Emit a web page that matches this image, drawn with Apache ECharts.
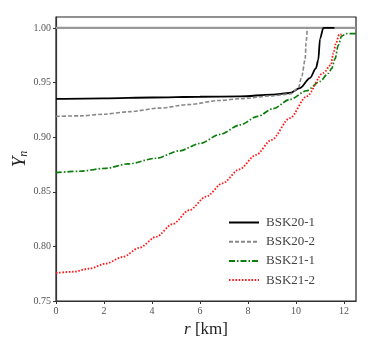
<!DOCTYPE html>
<html>
<head>
<meta charset="utf-8">
<script src="https://cdn.jsdelivr.net/npm/echarts@6/dist/echarts.min.js"></script>
<style>
    html, body { margin: 0; padding: 0; background: #fff; }
    #chart { width: 374px; height: 354px; }
</style>
</head>
<body>
<div id="chart"></div>
<script>
// values, [r (km), Y_n]
var bsk20_1 = [[0, 0.935], [2, 0.9355], [4, 0.9363], [6, 0.937], [7.67, 0.9373], [9, 0.939], [9.75, 0.9404],
    [10.17, 0.945], [10.58, 0.954], [10.83, 0.963], [10.93, 0.971], [11.0, 0.99], [11.14, 1.0], [11.6, 1.0]];
var bsk20_2 = [[0, 0.919], [1, 0.9195], [2, 0.921], [3, 0.9232], [4.33, 0.9266], [5.5, 0.9298], [6.83, 0.9336],
    [7.67, 0.9352], [9, 0.9378], [9.75, 0.9395], [10.1, 0.945], [10.24, 0.9557], [10.38, 0.971], [10.42, 0.9864], [10.47, 1.0]];
var bsk21_1 = [[0, 0.8675], [1, 0.8688], [2.08, 0.8715], [3, 0.8755], [4.17, 0.8807], [5.14, 0.8875], [6, 0.8942],
    [6.83, 0.9025], [7.67, 0.9112], [8.4, 0.919], [9.05, 0.9262], [9.75, 0.9345], [10.44, 0.9425], [11.0, 0.951],
    [11.35, 0.9585], [11.49, 0.963], [11.63, 0.972], [11.76, 0.984], [11.9, 0.9925], [12.1, 0.9947], [12.5, 0.9947]];
var bsk21_2 = [[0, 0.7756], [0.7, 0.7768], [1.39, 0.7796], [2.08, 0.7843], [2.78, 0.7903], [3.47, 0.7987], [4.17, 0.8087],
    [4.86, 0.8205], [5.56, 0.8332], [6.25, 0.8455], [6.94, 0.8577], [7.64, 0.8705], [8.33, 0.8837], [8.98, 0.8975],
    [9.75, 0.9175], [10.44, 0.9373], [11.14, 0.9588], [11.45, 0.966], [11.56, 0.977], [11.67, 0.9864],
    [11.8, 0.994], [11.9, 0.994]];
var unityLine = [[0, 1.0], [12.5, 1.0]];

var names = ['BSK20-1', 'BSK20-2', 'BSK21-1', 'BSK21-2'];
var xTicks = [0, 2, 4, 6, 8, 10, 12];
var yTicks = [0.75, 0.80, 0.85, 0.90, 0.95, 1.00];

var font = 'Liberation Serif';

function curve(name, data, color, width, type) {
    return {
        name: name,
        type: 'line',
        data: data,
        symbol: 'none',
        smooth: 0.3,
        smoothMonotone: 'x',
        lineStyle: { color: color, width: width, type: type },
        itemStyle: { color: color },
        z: 3
    };
}

var option = {
    animation: false,
    grid: {
        left: 56, right: 18, top: 17, bottom: 53,
        outerBoundsMode: 'none',
        show: true, borderColor: '#222', borderWidth: 1.2
    },
    legend: {
        data: names,
        orient: 'vertical',
        left: 223,
        top: 211,
        itemWidth: 30,
        itemHeight: 10,
        itemGap: 6.2,
        itemStyle: { opacity: 0 },
        textStyle: { fontFamily: font, fontSize: 13, color: '#444', padding: [0, 0, 0, 2] }
    },
    xAxis: {
        type: 'value',
        min: 0, max: 12.5, interval: 2,
        name: '{i|r} [km]',
        nameLocation: 'middle',
        nameGap: 20,
        nameMoveOverlap: false,
        nameTextStyle: {
            fontFamily: font, fontSize: 17, color: '#222',
            rich: { i: { fontFamily: font, fontStyle: 'italic', fontSize: 17, color: '#222' } }
        },
        splitLine: { show: false },
        axisLine: { lineStyle: { color: '#333', width: 1.2 } },
        axisTick: { length: 3, customValues: xTicks, lineStyle: { color: '#333' } },
        axisLabel: {
            fontFamily: font, fontSize: 10, color: '#555', margin: 5,
            customValues: xTicks
        }
    },
    yAxis: {
        type: 'value',
        min: 0.75, max: 1.01, interval: 0.05,
        name: '{y|Y}{n|n}',
        nameLocation: 'middle',
        nameRotate: 90,
        nameGap: 26,
        nameMoveOverlap: false,
        nameTextStyle: {
            rich: {
                y: { fontFamily: font, fontStyle: 'italic', fontSize: 19, color: '#222' },
                n: { fontFamily: font, fontStyle: 'italic', fontSize: 12, color: '#222', verticalAlign: 'bottom', padding: [8, 0, 0, 0] }
            }
        },
        splitLine: { show: false },
        axisLine: { show: true, lineStyle: { color: '#333', width: 1.2 } },
        axisTick: { show: true, length: 3, customValues: yTicks, lineStyle: { color: '#333' } },
        axisLabel: {
            fontFamily: font, fontSize: 10, color: '#555', margin: 5,
            customValues: yTicks,
            formatter: function (v) { return v.toFixed(2); }
        }
    },
    series: [
        {
            name: 'unity',
            type: 'line',
            data: unityLine,
            symbol: 'none',
            silent: true,
            lineStyle: { color: '#999', width: 2.2 },
            z: 1
        },
        curve('BSK20-1', bsk20_1, '#000', 1.8, 'solid'),
        curve('BSK20-2', bsk20_2, '#888', 1.6, [4, 2]),
        curve('BSK21-1', bsk21_1, '#0a7d0a', 1.7, [6, 2, 1.5, 2]),
        curve('BSK21-2', bsk21_2, '#ff1a1a', 1.8, [1.6, 1.6])
    ]
};

echarts.init(document.getElementById('chart')).setOption(option);
</script>
</body>
</html>
